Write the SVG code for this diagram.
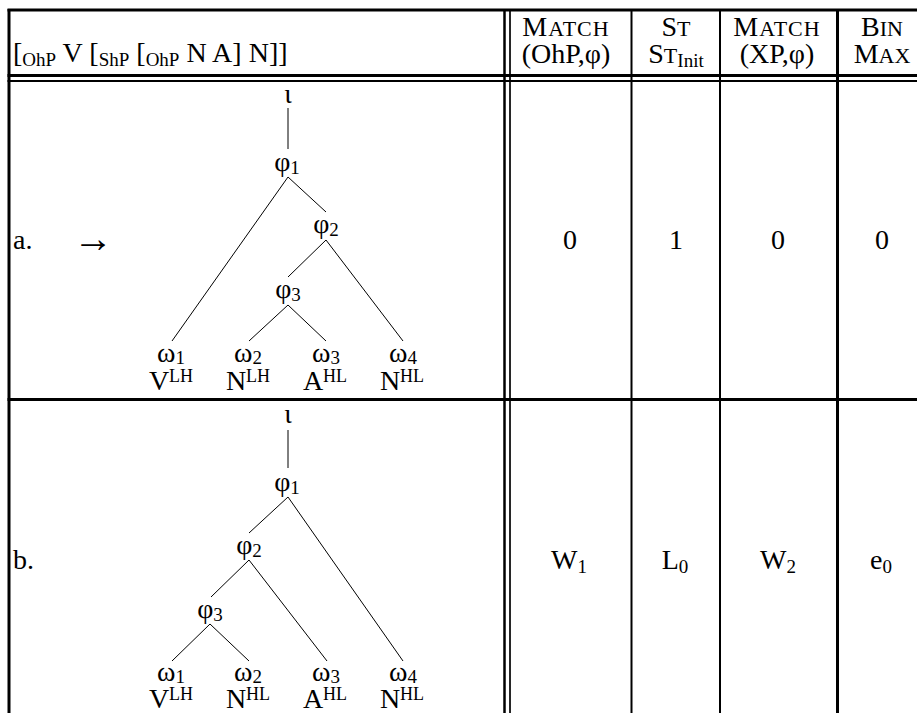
<svg xmlns="http://www.w3.org/2000/svg" width="917" height="713" viewBox="0 0 917 713">
<style>
text{font-family:"Liberation Serif","Times New Roman",serif;font-size:28px;fill:#000}
.c{text-anchor:middle}
.sc{font-size:22px}
.sub{font-size:19px}
.sup{font-size:18px}
.arrow{font-size:40px}
.grid line{stroke:#000}
.edges line{stroke:#000;stroke-width:1}
</style>
<rect width="917" height="713" fill="#fff"/>
<g class="grid">
<line x1="7.5" y1="10" x2="917" y2="10" stroke-width="3"/>
<line x1="9" y1="9" x2="9" y2="713" stroke-width="3"/>
<line x1="7.5" y1="75.5" x2="917" y2="75.5" stroke-width="3"/>
<line x1="7.5" y1="81" x2="917" y2="81" stroke-width="2"/>
<line x1="7.5" y1="399.5" x2="917" y2="399.5" stroke-width="3"/>
<line x1="504.5" y1="10" x2="504.5" y2="713" stroke-width="2.5"/>
<line x1="510" y1="10" x2="510" y2="713" stroke-width="1.7"/>
<line x1="631.5" y1="10" x2="631.5" y2="713" stroke-width="2"/>
<line x1="720" y1="10" x2="720" y2="713" stroke-width="2"/>
<line x1="837.5" y1="10" x2="837.5" y2="713" stroke-width="3"/>
</g>
<g id="header">
<text x="13" y="62">[<tspan class="sub" dy="4">OhP</tspan><tspan dy="-4"> V [</tspan><tspan class="sub" dy="4">ShP</tspan><tspan dy="-4"> [</tspan><tspan class="sub" dy="4">OhP</tspan><tspan dy="-4"> N A] N]]</tspan></text>
<text class="c" x="566" y="36" letter-spacing="1">M<tspan class="sc">ATCH</tspan></text>
<text class="c" x="566" y="63">(OhP,φ)</text>
<text class="c" x="676" y="36">S<tspan class="sc">T</tspan></text>
<text class="c" x="676" y="63">S<tspan class="sc">T</tspan><tspan class="sub" dy="4">Init</tspan></text>
<text class="c" x="777" y="36" letter-spacing="1">M<tspan class="sc">ATCH</tspan></text>
<text class="c" x="777" y="63">(XP,φ)</text>
<text class="c" x="882" y="36">B<tspan class="sc">IN</tspan></text>
<text class="c" x="882" y="63">M<tspan class="sc">AX</tspan></text>
</g>
<g id="row-a-labels">
<text x="13" y="249">a.</text>
<text class="arrow" x="73" y="252">→</text>
<text class="c" x="570" y="249">0</text>
<text class="c" x="676" y="249">1</text>
<text class="c" x="778" y="249">0</text>
<text class="c" x="882" y="249">0</text>
</g>
<g id="row-b-labels">
<text x="13" y="569">b.</text>
<text class="c" x="569" y="569">W<tspan class="sub" dy="4">1</tspan></text>
<text class="c" x="675" y="569">L<tspan class="sub" dy="4">0</tspan></text>
<text class="c" x="778" y="569">W<tspan class="sub" dy="4">2</tspan></text>
<text class="c" x="881" y="569">e<tspan class="sub" dy="4">0</tspan></text>
</g>
<g class="edges" id="connectors">
<line x1="288" y1="108" x2="288" y2="149"/>
<line x1="288" y1="177" x2="172" y2="341"/>
<line x1="288" y1="177" x2="326" y2="212"/>
<line x1="326" y1="240" x2="288" y2="277"/>
<line x1="326" y1="240" x2="403" y2="341"/>
<line x1="288" y1="305" x2="249" y2="341"/>
<line x1="288" y1="305" x2="326" y2="341"/>
<line x1="288" y1="430" x2="288" y2="468"/>
<line x1="288" y1="497" x2="249" y2="533"/>
<line x1="288" y1="497" x2="403" y2="661"/>
<line x1="249" y1="560" x2="211" y2="597"/>
<line x1="249" y1="560" x2="327" y2="661"/>
<line x1="210" y1="624" x2="172" y2="661"/>
<line x1="210" y1="624" x2="249" y2="661"/>
</g>
<g id="a-iota"><text class="c" x="288" y="103">ι</text></g>
<g id="a-phi1"><text class="c" x="287" y="171">φ<tspan class="sub" dy="3">1</tspan></text></g>
<g id="a-phi2"><text class="c" x="326" y="233">φ<tspan class="sub" dy="3">2</tspan></text></g>
<g id="a-phi3"><text class="c" x="288" y="298">φ<tspan class="sub" dy="3">3</tspan></text></g>
<g id="a-w1"><text class="c" x="171" y="362">ω<tspan class="sub" dy="2">1</tspan></text><text class="c" x="171" y="390">V<tspan class="sup" dy="-8">LH</tspan></text></g>
<g id="a-w2"><text class="c" x="248" y="362">ω<tspan class="sub" dy="2">2</tspan></text><text class="c" x="248" y="390">N<tspan class="sup" dy="-8">LH</tspan></text></g>
<g id="a-w3"><text class="c" x="326" y="362">ω<tspan class="sub" dy="2">3</tspan></text><text class="c" x="325" y="390">A<tspan class="sup" dy="-8">HL</tspan></text></g>
<g id="a-w4"><text class="c" x="403" y="362">ω<tspan class="sub" dy="2">4</tspan></text><text class="c" x="402" y="390">N<tspan class="sup" dy="-8">HL</tspan></text></g>
<g id="b-iota"><text class="c" x="288" y="423">ι</text></g>
<g id="b-phi1"><text class="c" x="287" y="491">φ<tspan class="sub" dy="3">1</tspan></text></g>
<g id="b-phi2"><text class="c" x="249" y="554">φ<tspan class="sub" dy="3">2</tspan></text></g>
<g id="b-phi3"><text class="c" x="210" y="618">φ<tspan class="sub" dy="3">3</tspan></text></g>
<g id="b-w1"><text class="c" x="171" y="681">ω<tspan class="sub" dy="2">1</tspan></text><text class="c" x="171" y="708">V<tspan class="sup" dy="-8">LH</tspan></text></g>
<g id="b-w2"><text class="c" x="248" y="681">ω<tspan class="sub" dy="2">2</tspan></text><text class="c" x="248" y="708">N<tspan class="sup" dy="-8">HL</tspan></text></g>
<g id="b-w3"><text class="c" x="326" y="681">ω<tspan class="sub" dy="2">3</tspan></text><text class="c" x="325" y="708">A<tspan class="sup" dy="-8">HL</tspan></text></g>
<g id="b-w4"><text class="c" x="403" y="681">ω<tspan class="sub" dy="2">4</tspan></text><text class="c" x="402" y="708">N<tspan class="sup" dy="-8">HL</tspan></text></g>
</svg>
